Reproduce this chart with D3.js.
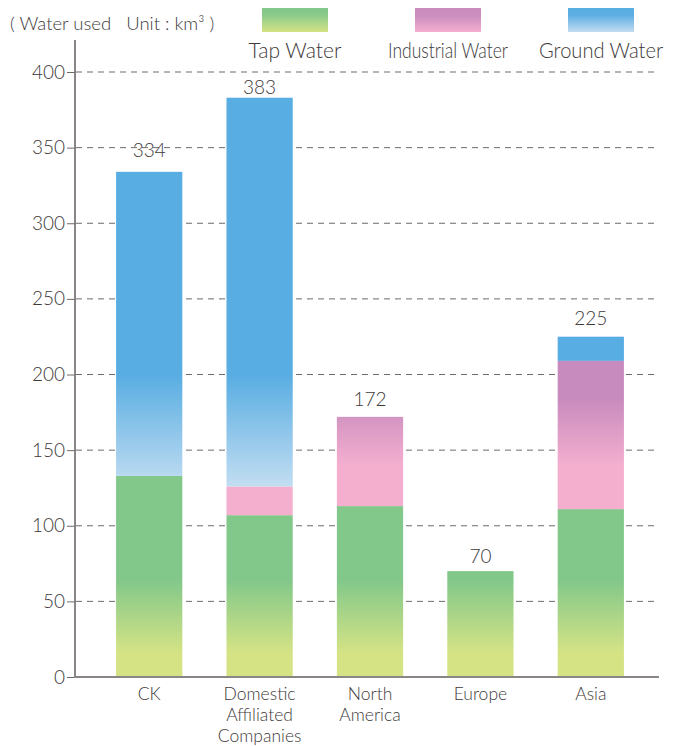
<!DOCTYPE html>
<html>
<head>
<meta charset="utf-8">
<script src="https://cdn.jsdelivr.net/npm/d3@7"></script>
<style>
  html, body { margin: 0; padding: 0; background: #fff; }
  svg { display: block; font-family: Lato, "Noto Sans", sans-serif; font-weight: 300; }
</style>
</head>
<body>
<svg id="chart" width="676" height="746"></svg>
<script>
// Water use by region (km³), stacked: tap, industrial, ground
const categories = [["CK"], ["Domestic", "Affiliated", "Companies"], ["North", "America"], ["Europe"], ["Asia"]];
const tapWater        = [133, 107, 113, 70, 111];
const industrialWater = [0, 19, 59, 0, 98];
const groundWater     = [201, 257, 0, 0, 16];
const totals          = [334, 383, 172, 70, 225];
const yTicks          = [0, 50, 100, 150, 200, 250, 300, 350, 400];
const seriesNames     = ["Tap Water", "Industrial Water", "Ground Water"];

// Layout tweaks: gap (px) between each bar top and its total label, legend label widths
const totalLabelGap = [15, 4, 11, 8, 12];
const legendLabelWidth = [93, 120, 124];

const svg = d3.select("#chart");
const textColor = "#3e3a3a";

const x = d3.scaleBand()
  .domain(d3.range(categories.length))
  .range([94, 646])
  .paddingInner(0.4)
  .paddingOuter(0.2);

const y = d3.scaleLinear().domain([0, 400]).range([677, 72]);

// Gradients, laid out in chart space so every bar shares the same colour bands
const defs = svg.append("defs");
function grad(id, stops, y1, y2, units) {
  const g = defs.append("linearGradient").attr("id", id)
    .attr("x1", 0).attr("x2", 0);
  if (units === "user") {
    g.attr("gradientUnits", "userSpaceOnUse").attr("y1", y1).attr("y2", y2);
  } else {
    g.attr("y1", 0).attr("y2", 1);
  }
  stops.forEach(([o, c]) => g.append("stop").attr("offset", o).attr("stop-color", c));
}
grad("gTap", [[0, "#82c88a"], [1, "#d5e385"]], y(64), y(16), "user");
grad("gInd", [[0, "#c88bbe"], [1, "#f4afcf"]], y(184), y(140), "user");
grad("gGround", [[0, "#58ade2"], [1, "#c2ddf2"]], y(200), y(126), "user");
grad("lTap", [[0, "#82c88a"], [0.25, "#86c98a"], [1, "#d5e385"]], 0, 0, "box");
grad("lInd", [[0, "#c88bbe"], [0.35, "#cc8fbf"], [1, "#f4afcf"]], 0, 0, "box");
grad("lGround", [[0, "#58ade2"], [0.3, "#5daee2"], [1, "#c2ddf2"]], 0, 0, "box");

// Grid lines
svg.append("g").selectAll("line")
  .data(yTicks.filter(d => d > 0))
  .join("line")
  .attr("x1", 76).attr("x2", 655)
  .attr("y1", d => y(d)).attr("y2", d => y(d))
  .attr("stroke", "#6e6a6a")
  .attr("stroke-width", 1)
  .attr("stroke-dasharray", "6,5");

// Stacked bars
const stackData = categories.map((c, i) => ({ i, tap: tapWater[i], ind: industrialWater[i], ground: groundWater[i] }));
const stack = d3.stack().keys(["tap", "ind", "ground"]);
const layers = stack(stackData);
const fills = { tap: "url(#gTap)", ind: "url(#gInd)", ground: "url(#gGround)" };

svg.append("g").selectAll("g")
  .data(layers)
  .join("g")
  .attr("fill", d => fills[d.key])
  .selectAll("rect")
  .data(d => d.filter(s => s[1] > s[0]))
  .join("rect")
  .attr("x", d => x(d.data.i))
  .attr("width", x.bandwidth())
  .attr("y", d => y(d[1]))
  .attr("height", d => y(d[0]) - y(d[1]));

// Total labels
svg.append("g").selectAll("text")
  .data(totals)
  .join("text")
  .attr("x", (d, i) => x(i) + x.bandwidth() / 2)
  .attr("y", (d, i) => y(d) - totalLabelGap[i])
  .attr("text-anchor", "middle")
  .attr("font-size", 19)
  .attr("fill", textColor)
  .text(d => d);

// Y axis
const yAxis = d3.axisLeft(y).tickValues(yTicks).tickSize(8).tickPadding(2);
const gy = svg.append("g").attr("transform", "translate(75,0)").call(yAxis);
gy.select(".domain").attr("stroke", "#8a8686").attr("stroke-width", 2).attr("d", "M0,677V40");
gy.selectAll(".tick line").attr("stroke", "#6e6a6a");
gy.selectAll(".tick text").attr("font-size", 19).attr("fill", textColor)
  .attr("font-family", "Lato, 'Noto Sans', sans-serif").attr("font-weight", 300);

// X axis baseline
svg.append("line")
  .attr("x1", 74).attr("x2", 659)
  .attr("y1", y(0)).attr("y2", y(0))
  .attr("stroke", "#8a8686").attr("stroke-width", 2);

// Category labels, one text per line
const catG = svg.append("g").selectAll("g")
  .data(categories)
  .join("g")
  .attr("transform", (d, i) => `translate(${x(i) + x.bandwidth() / 2},0)`);
catG.selectAll("text")
  .data(d => d)
  .join("text")
  .attr("x", 0)
  .attr("y", (d, j) => 700 + j * 21)
  .attr("text-anchor", "middle")
  .attr("font-size", 17.5)
  .attr("fill", textColor)
  .text(d => d);

// Unit note
svg.append("text")
  .attr("x", 10).attr("y", 30)
  .attr("font-size", 18.5)
  .attr("fill", textColor)
  .attr("xml:space", "preserve")
  .text("( Water used   Unit : km³ )");

// Legend
const legendX = [262, 415, 568];
const legendFills = ["url(#lTap)", "url(#lInd)", "url(#lGround)"];
const lg = svg.append("g").selectAll("g")
  .data(seriesNames)
  .join("g")
  .attr("transform", (d, i) => `translate(${legendX[i]},8)`);
lg.append("rect")
  .attr("width", 66).attr("height", 24)
  .attr("fill", (d, i) => legendFills[i]);
lg.append("text")
  .attr("x", 33).attr("y", 50)
  .attr("text-anchor", "middle")
  .attr("font-size", 21)
  .attr("fill", textColor)
  .attr("textLength", (d, i) => legendLabelWidth[i])
  .attr("lengthAdjust", "spacingAndGlyphs")
  .text(d => d);
</script>
</body>
</html>
